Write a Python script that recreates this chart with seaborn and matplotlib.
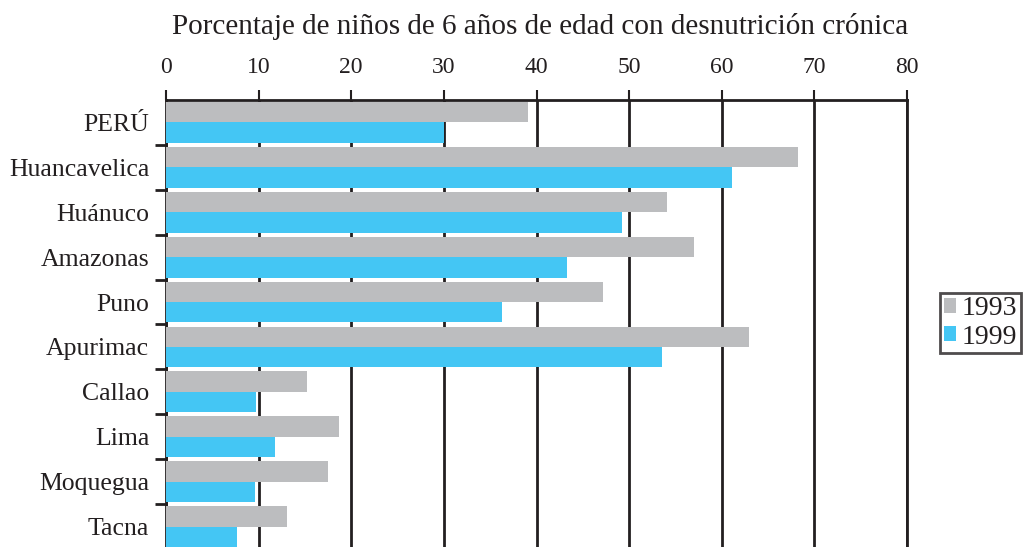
import matplotlib
matplotlib.use("Agg")
import matplotlib.pyplot as plt
import seaborn as sns
import pandas as pd
import numpy as np

regions = ["PERÚ", "Huancavelica", "Huánuco", "Amazonas", "Puno",
           "Apurimac", "Callao", "Lima", "Moquegua", "Tacna"]
values_1993 = [39.1, 68.2, 54.1, 57.0, 47.2, 62.9, 15.2, 18.7, 17.5, 13.1]
values_1999 = [30.0, 61.1, 49.2, 43.3, 36.3, 53.6, 9.7, 11.8, 9.6, 7.7]
years = ["1993", "1999"]
x_ticks = [0, 10, 20, 30, 40, 50, 60, 70, 80]
title = "Porcentaje de niños de 6 años de edad con desnutrición crónica"

df = pd.DataFrame({
    "region": regions * 2,
    "valor": values_1993 + values_1999,
    "año": [years[0]] * len(regions) + [years[1]] * len(regions),
})

sns.set_style("white")
plt.rcParams["font.family"] = ["Liberation Serif", "DejaVu Serif"]

fig = plt.figure(figsize=(10.25, 5.47), dpi=100)
ax = fig.add_axes([166 / 1025, 1 - 549 / 547, 741 / 1025, 449 / 547])

palette = {"1993": "#BCBDBF", "1999": "#44C6F4"}
sns.barplot(data=df, x="valor", y="region", hue="año", order=regions,
            hue_order=years, palette=palette, orient="h", width=0.91,
            saturation=1, ax=ax, zorder=3, edgecolor="none", linewidth=0)

ax.set_xlim(0, 80)
ax.set_ylim(len(regions) - 0.5, -0.5)
ax.xaxis.tick_top()
ax.xaxis.set_label_position("top")
ax.set_xticks(x_ticks)
ax.set_xticklabels([str(t) for t in x_ticks], fontsize=17)
ax.set_xlabel("")
ax.set_ylabel("")
ax.tick_params(axis="x", direction="out", length=7, width=1.5, color="#231F20",
               pad=9, top=True, bottom=False)
ax.tick_params(axis="y", which="major", length=0, pad=12, labelsize=18.5)
ax.set_yticks(np.arange(0.5, len(regions) - 0.5), minor=True)
ax.tick_params(axis="y", which="minor", direction="out", length=8, width=2,
               color="#231F20", left=True)

ax.grid(axis="x", color="#231F20", linewidth=2, zorder=0)
ax.set_axisbelow(True)
for side in ["top", "left", "right"]:
    ax.spines[side].set_visible(True)
    ax.spines[side].set_color("#231F20")
    ax.spines[side].set_linewidth(2)
ax.spines["bottom"].set_visible(False)

fig.text(540 / 1025, 1 - 27 / 547, title, fontsize=21, ha="center", va="center",
         color="#231F20")

leg = ax.legend(loc="center left", bbox_to_anchor=(1.045, 0.503), frameon=True,
                fancybox=False, fontsize=20, handlelength=0.45, handleheight=0.45,
                handletextpad=0.2, borderpad=0.12, labelspacing=0.12,
                borderaxespad=0)
leg.get_frame().set_edgecolor("#231F20")
leg.get_frame().set_linewidth(2)
for t in leg.get_texts():
    t.set_color("#231F20")
for t in ax.get_xticklabels() + ax.get_yticklabels():
    t.set_color("#231F20")

fig.savefig("out.png", dpi=100)
